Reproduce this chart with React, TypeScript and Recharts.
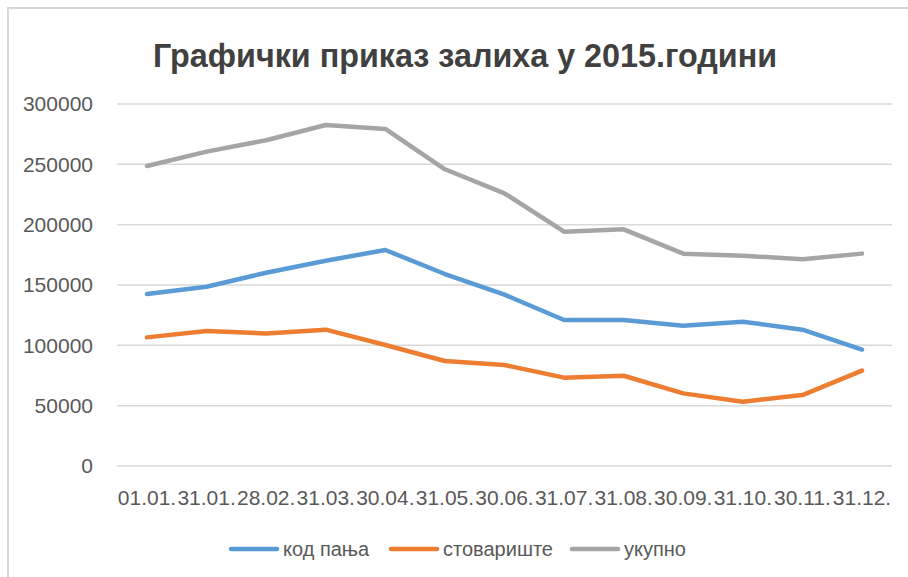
import React from "react";
import { LineChart, Line, XAxis, YAxis, CartesianGrid } from "recharts";

const categories = ["01.01.", "31.01.", "28.02.", "31.03.", "30.04.", "31.05.", "30.06.", "31.07.", "31.08.", "30.09.", "31.10.", "30.11.", "31.12."];
const kodPanja = [142500, 148600, 160200, 170100, 179000, 159100, 142000, 121000, 121000, 116300, 119600, 113000, 96500];
const stovariste = [106600, 111800, 109900, 113000, 100300, 87000, 83700, 73200, 74800, 60200, 53300, 58800, 79000];
const ukupno = [248600, 260500, 270000, 282600, 279300, 245900, 226000, 194200, 196100, 176000, 174300, 171300, 176000];
const yTicks = [0, 50000, 100000, 150000, 200000, 250000, 300000];

const seriesNames = ["код пања", "стовариште", "укупно"];
const colors = ["#5B9BD5", "#ED7D31", "#A5A5A5"];

const data = categories.map((c, i) => ({
  name: c,
  a: kodPanja[i],
  b: stovariste[i],
  c: ukupno[i],
}));

const FONT = "'Liberation Sans', Arial, sans-serif";

export default function App() {
  return (
    <div style={{ position: "absolute", left: 0, top: 0, width: 908, height: 577, background: "#fff", overflow: "hidden", fontFamily: FONT }}>
      <div style={{ position: "absolute", left: 7, top: 7, width: 920, height: 600, borderLeft: "2px solid #d9d9d9", borderTop: "2px solid #d9d9d9" }} />
      <svg style={{ position: "absolute", left: 0, top: 0 }} width={908} height={100}>
        <text x={465} y={67} textAnchor="middle" fontFamily={FONT} fontWeight="bold" fontSize={34} fill="#404040" textLength={624} lengthAdjust="spacingAndGlyphs">
          Графички приказ залиха у 2015.години
        </text>
      </svg>
      <div style={{ position: "absolute", left: 0, top: 0 }}>
        <LineChart width={908} height={577} data={data} margin={{ top: 104, right: 16, bottom: 81, left: 0 }}>
          <CartesianGrid vertical={false} stroke="#d9d9d9" strokeWidth={1.5} />
          <XAxis
            dataKey="name"
            padding={{ left: 30, right: 30 }}
            axisLine={false}
            tickLine={false}
            interval={0}
            tickMargin={18}
            height={30}
            tick={{ fill: "#595959", fontSize: 21, fontFamily: FONT }}
          />
          <YAxis
            domain={[0, 300000]}
            ticks={yTicks}
            width={117}
            axisLine={false}
            tickLine={false}
            tickMargin={18}
            tick={{ fill: "#595959", fontSize: 21, fontFamily: FONT }}
          />
          <Line dataKey="a" name={seriesNames[0]} stroke={colors[0]} strokeWidth={4.5} dot={false} strokeLinecap="round" strokeLinejoin="round" isAnimationActive={false} />
          <Line dataKey="b" name={seriesNames[1]} stroke={colors[1]} strokeWidth={4.5} dot={false} strokeLinecap="round" strokeLinejoin="round" isAnimationActive={false} />
          <Line dataKey="c" name={seriesNames[2]} stroke={colors[2]} strokeWidth={4.5} dot={false} strokeLinecap="round" strokeLinejoin="round" isAnimationActive={false} />
        </LineChart>
      </div>
      <div style={{ position: "absolute", left: 0, top: 534, width: 908, height: 30 }}>
        {seriesNames.map((n, i) => {
          const lefts = [228, 388, 569];
          return (
            <div key={n} style={{ position: "absolute", left: lefts[i], top: 0, height: 30, display: "flex", alignItems: "center" }}>
              <svg width={52} height={10} style={{ marginRight: 3 }}>
                <line x1={3} y1={5} x2={49} y2={5} stroke={colors[i]} strokeWidth={4.5} strokeLinecap="round" />
              </svg>
              <span style={{ fontSize: 20, color: "#595959", fontFamily: FONT, whiteSpace: "nowrap" }}>{n}</span>
            </div>
          );
        })}
      </div>
    </div>
  );
}
